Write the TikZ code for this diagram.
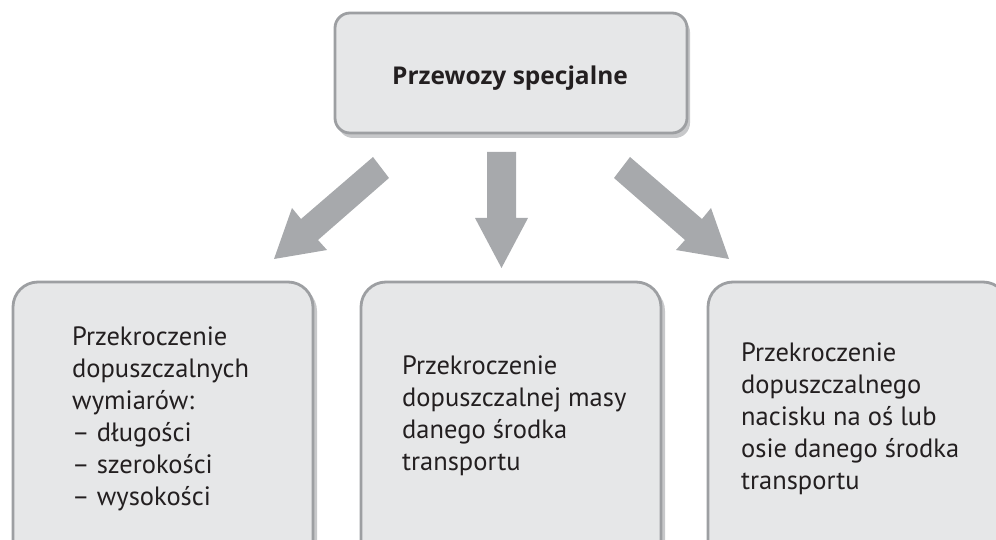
\documentclass[tikz,border=0pt]{standalone}
\usepackage{fontspec}
\setmainfont{PT Sans}
\newfontfamily\titlefont{Open Sans}
\definecolor{boxfill}{HTML}{E6E7E8}
\definecolor{boxline}{HTML}{9D9FA2}
\definecolor{shadowc}{HTML}{C7C8CA}
\definecolor{arrowc}{HTML}{A7A9AC}
\definecolor{txt}{HTML}{231F20}
\tikzset{
  box/.style={draw=boxline, line width=2.8pt, fill=boxfill},
  shadowbox/.style={fill=shadowc},
  blockarrow/.style={fill=arrowc, draw=none},
  bodytext/.style={anchor=base west, align=left, text=txt, inner sep=0pt,
    font=\fontsize{26.5}{32}\selectfont},
  titletext/.style={anchor=base, text=txt, inner sep=0pt,
    font=\titlefont\bfseries\fontsize{24.5}{28}\selectfont}
}
\begin{document}
\begin{tikzpicture}[x=1pt,y=-1pt]
\useasboundingbox (0,0) rectangle (996,540);
\clip (0,0) rectangle (996,540);
% top box
\fill[shadowbox, rounded corners=15pt] (338,17) rectangle (690,138);
\draw[box, rounded corners=15pt] (335,13) rectangle (687,133);
\node[titletext] (title) at (510,85) {Przewozy specjalne};
% bottom boxes
\fill[shadowbox, rounded corners=25pt] (16,286) rectangle (317,580);
\draw[box, rounded corners=25pt] (13,282) rectangle (313,580);
\fill[shadowbox, rounded corners=25pt] (365,286) rectangle (665,580);
\draw[box, rounded corners=25pt] (361,282) rectangle (661,580);
\fill[shadowbox, rounded corners=25pt] (712,286) rectangle (1012,580);
\draw[box, rounded corners=25pt] (708,282) rectangle (1008,580);
\node[bodytext] (left) at (72,505) {Przekroczenie\\dopuszczalnych\\wymiarów:\\– długości\\– szerokości\\– wysokości};
\node[bodytext] (mid) at (402,470) {Przekroczenie\\dopuszczalnej masy\\danego środka\\transportu};
\node[bodytext] (right) at (741,489) {Przekroczenie\\dopuszczalnego\\nacisku na oś lub\\osie danego środka\\transportu};
% arrows
\fill[blockarrow] (373,157) -- (389,178) -- (318,240) -- (327,250) -- (274,259) -- (292,208) -- (301,219) -- cycle;
\fill[blockarrow] (487,152) -- (516,152) -- (516,218) -- (528,218) -- (501.5,268) -- (475,218) -- (487,218) -- cycle;
\fill[blockarrow] (630,157) -- (614,178) -- (685,240) -- (676,250) -- (729,259) -- (711,208) -- (702,219) -- cycle;
\end{tikzpicture}
\end{document}
